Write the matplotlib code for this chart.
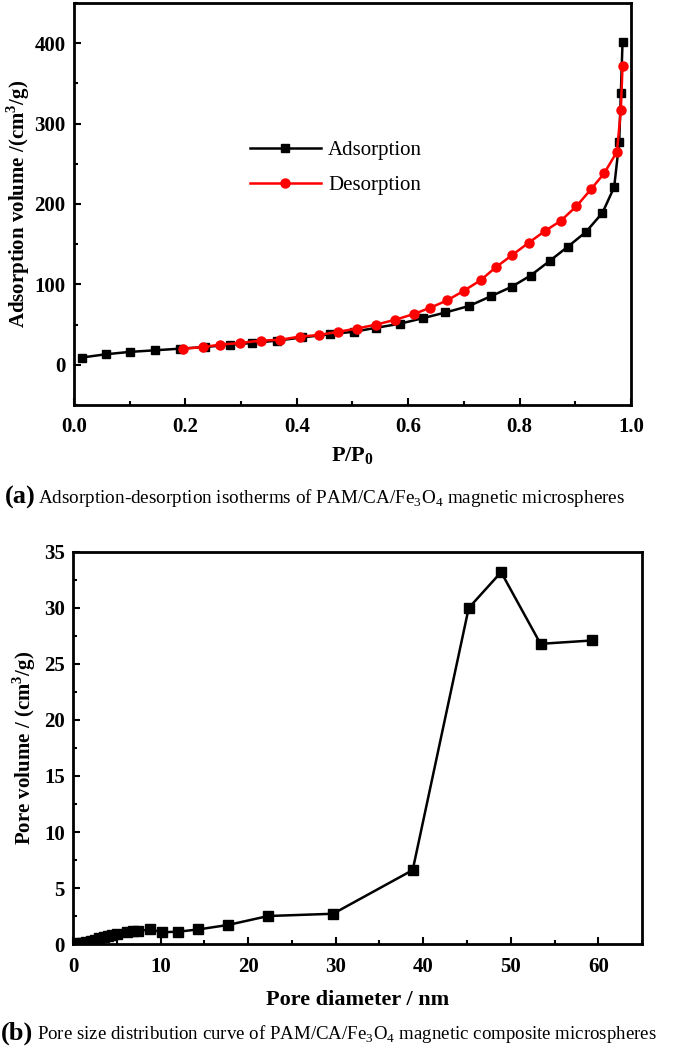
import numpy as np
import matplotlib.pyplot as plt
from matplotlib.ticker import MultipleLocator

plt.rcParams['font.family'] = ['Liberation Serif', 'DejaVu Serif']
plt.rcParams['mathtext.fontset'] = 'custom'
plt.rcParams['mathtext.rm'] = 'Liberation Serif'
plt.rcParams['mathtext.bf'] = 'Liberation Serif:bold'

#%% Data (a) isotherms
ads_x = [0.014, 0.057, 0.10, 0.146, 0.19, 0.235, 0.28, 0.32, 0.365, 0.41, 0.46,
         0.502, 0.543, 0.585, 0.627, 0.667, 0.709, 0.748, 0.786, 0.82, 0.854,
         0.887, 0.919, 0.949, 0.970, 0.979, 0.982, 0.985]
ads_y = [9, 13, 16, 18, 20, 22, 25, 27, 30, 34, 38, 41, 46, 51, 58, 65, 73, 85,
         97, 111, 129, 147, 165, 189, 221, 277, 338, 401]
des_x = [0.196, 0.232, 0.262, 0.298, 0.335, 0.37, 0.405, 0.44, 0.474, 0.508,
         0.543, 0.577, 0.61, 0.64, 0.67, 0.70, 0.73, 0.757, 0.786, 0.817, 0.845,
         0.874, 0.902, 0.928, 0.952, 0.975, 0.982, 0.985]
des_y = [20, 22, 25, 27, 30, 31, 35, 37, 41, 45, 50, 56, 63, 71, 80, 92, 105,
         121, 136, 152, 166, 179, 197, 218, 238, 265, 317, 371]

#%% Data (b) pore size distribution
pore_d = [0.5, 1.0, 1.5, 2.0, 2.5, 3.0, 3.5, 4.0, 4.5, 5.0, 6.2, 6.8, 7.4, 8.8,
          10.2, 12.0, 14.3, 17.7, 22.3, 29.7, 38.8, 45.2, 48.9, 53.4, 59.3]
pore_v = [0.05, 0.1, 0.2, 0.3, 0.4, 0.5, 0.6, 0.7, 0.8, 0.85, 1.1, 1.15, 1.15,
          1.3, 1.05, 1.1, 1.3, 1.7, 2.5, 2.7, 6.6, 30.0, 33.2, 26.8, 27.1]

fig = plt.figure(figsize=(6.85, 10.51), dpi=100)

def style(ax):
    for s in ax.spines.values():
        s.set_linewidth(2)
    ax.tick_params(which='both', direction='in', width=1.5, labelsize=15)
    ax.tick_params(axis='x', which='major', pad=9)
    ax.tick_params(axis='y', which='major', pad=6)
    ax.tick_params(which='major', length=5)
    ax.tick_params(which='minor', length=3)
    for lab in ax.get_xticklabels() + ax.get_yticklabels():
        lab.set_fontweight('bold')

# (a)
ax1 = fig.add_axes([0.108, 0.6147, 0.813, 0.3825])
ax1.plot(ads_x, ads_y, '-s', color='black', ms=6, lw=1.8, label='Adsorption')
ax1.plot(des_x, des_y, '-o', color='red', ms=6.5, lw=1.8, label='Desorption')
ax1.set_xlim(0, 1.0)
ax1.set_ylim(-50, 450)
ax1.xaxis.set_major_locator(MultipleLocator(0.2))
ax1.xaxis.set_minor_locator(MultipleLocator(0.1))
ax1.set_yticks([0, 100, 200, 300, 400])
ax1.yaxis.set_minor_locator(MultipleLocator(50))
ax1.xaxis.set_major_formatter(plt.FormatStrFormatter('%.1f'))
style(ax1)
ax1.set_xlabel('P/P$_\\mathbf{0}$', fontsize=16, fontweight='bold', labelpad=6)
ax1.set_ylabel('Adsorption volume /(cm$^\\mathbf{3}$/g)', fontsize=15, fontweight='bold', labelpad=2)
ax1.legend(loc='upper left', bbox_to_anchor=(0.282, 0.705), frameon=False,
           fontsize=15, handlelength=3.4, handletextpad=0.35, labelspacing=0.75)
fig.text(0.007, 0.527, '(a)', fontsize=19, fontweight='bold', va='center')
fig.text(0.056, 0.526, 'Adsorption-desorption isotherms of PAM/CA/Fe$_3$O$_4$ magnetic microspheres',
         fontsize=13.8, va='center')

# (b)
ax2 = fig.add_axes([0.1066, 0.1018, 0.8307, 0.373])
ax2.plot(pore_d, pore_v, '-s', color='black', ms=6.5, lw=1.8)
ax2.set_xlim(0, 65)
ax2.set_ylim(0, 35)
ax2.xaxis.set_major_locator(MultipleLocator(10))
ax2.xaxis.set_minor_locator(MultipleLocator(5))
ax2.yaxis.set_major_locator(MultipleLocator(5))
ax2.yaxis.set_minor_locator(MultipleLocator(2.5))
style(ax2)
ax2.set_xlabel('Pore diameter / nm', fontsize=16, fontweight='bold', labelpad=10)
ax2.set_ylabel('Pore volume / (cm$^\\mathbf{3}$/g)', fontsize=15, fontweight='bold', labelpad=4)
fig.text(0.002, 0.017, '(b)', fontsize=19, fontweight='bold', va='center')
fig.text(0.054, 0.016, 'Pore size distribution curve of PAM/CA/Fe$_3$O$_4$ magnetic composite microspheres',
         fontsize=13.6, va='center')

fig.savefig('out.png', dpi=100)
